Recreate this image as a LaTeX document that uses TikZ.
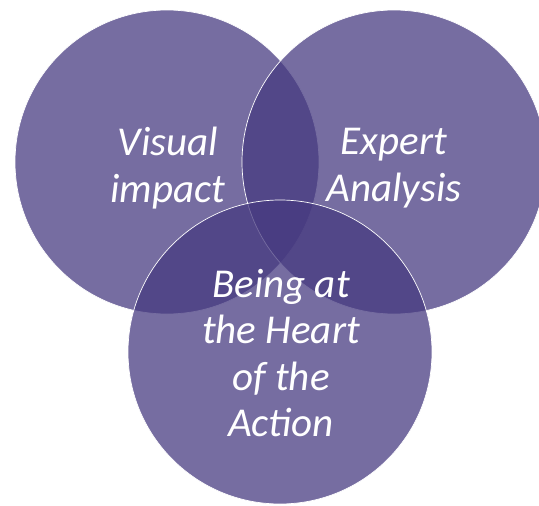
\documentclass[tikz,border=0pt]{standalone}
\usepackage{fontspec}
\setmainfont{Carlito}
\definecolor{vennfill}{RGB}{70,58,128}
\begin{document}
\begin{tikzpicture}[x=1pt,y=-1pt,
  venn/.style={circle, minimum size=304pt, inner sep=0pt,
    fill=vennfill, fill opacity=0.74, draw=white, line width=0.7pt},
  vlabel/.style={text=white, align=center,
    font=\fontsize{41}{46.5}\selectfont\itshape}]
\useasboundingbox (0,0) rectangle (539,506);
\clip (0,0) rectangle (539,506);
% the three overlapping circles
\node[venn] (visual) at (167,162) {};
\node[venn] (expert) at (394,162) {};
\node[venn] (heart)  at (280,352) {};
% labels
\node[vlabel] (tvisual) at (168,168) {Visual\\impact};
\node[vlabel] (texpert) at (394,168) {Expert\\Analysis};
\node[vlabel] (theart)  at (281,353) {Being at\\the Heart\\of the\\Action};
\end{tikzpicture}
\end{document}
